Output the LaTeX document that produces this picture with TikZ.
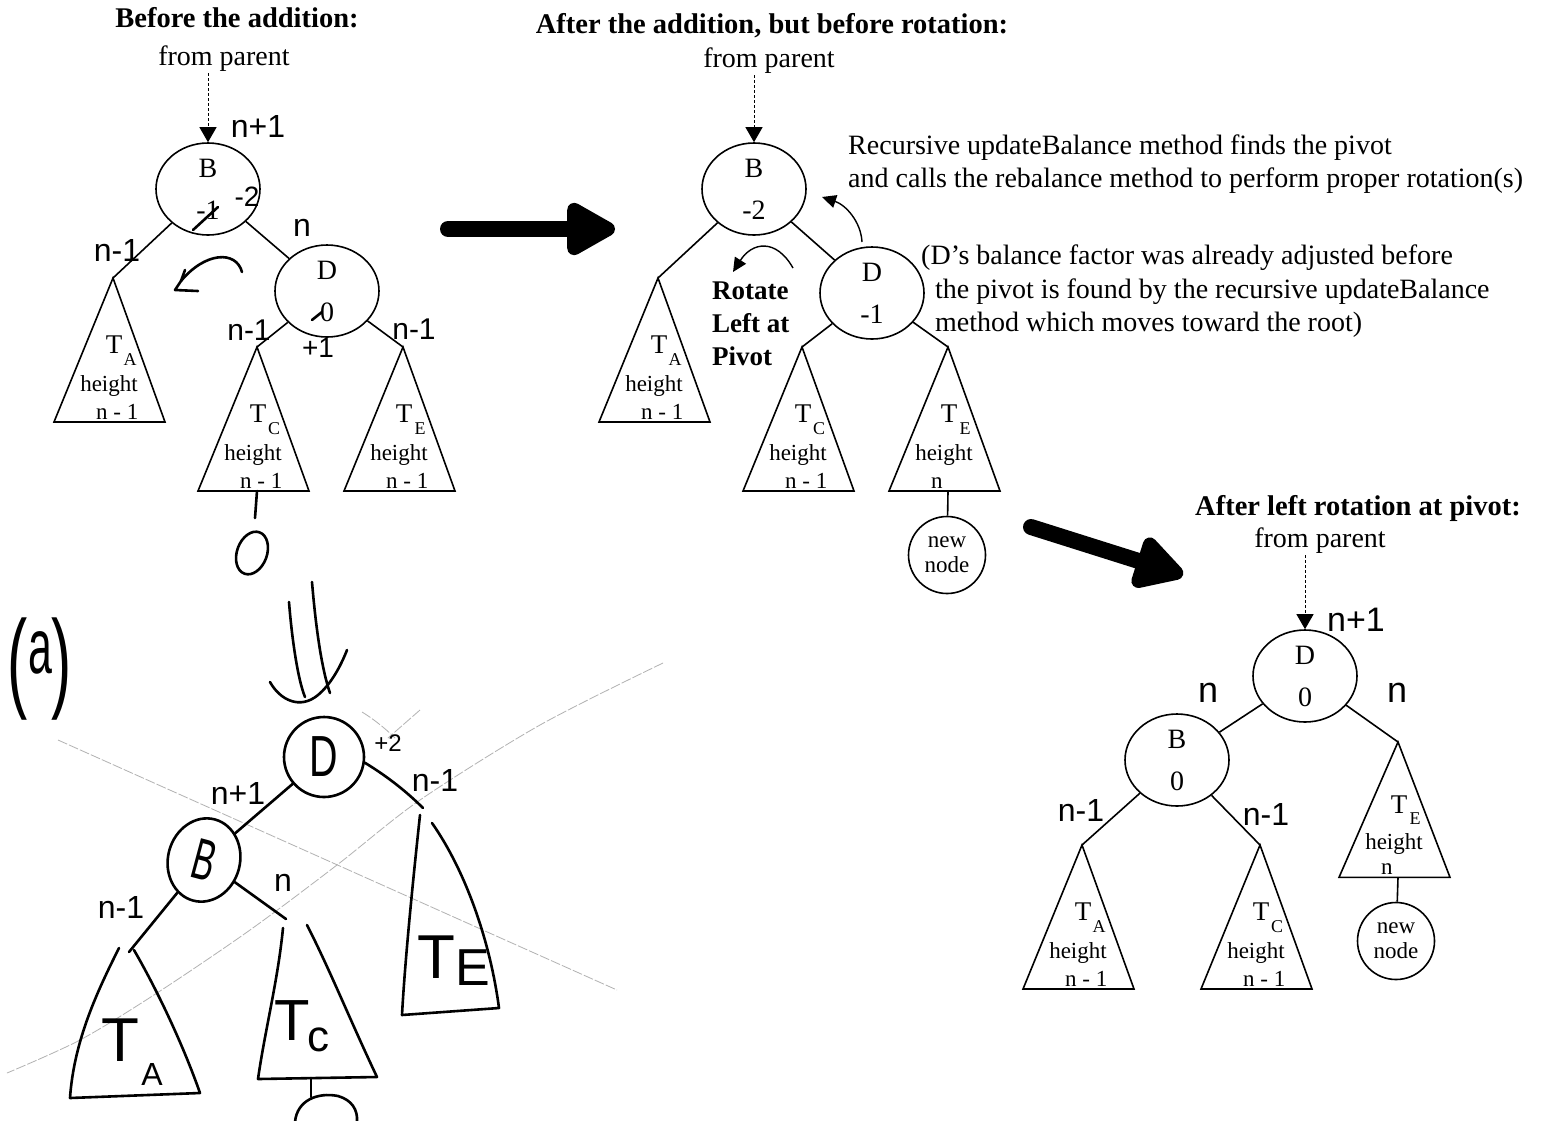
\documentclass[tikz,border=0pt]{standalone}
\usepackage{graphicx}
\usepackage{fontspec}
\setmainfont{Liberation Serif}
\newfontfamily\handfont{Liberation Sans}
\usetikzlibrary{shapes.geometric,arrows.meta}

\tikzset{
  tline/.style={line width=1.6pt},
  circ/.style={draw, line width=1.6pt, ellipse, minimum width=104pt, minimum height=92pt,
    inner sep=0pt, align=center, font=\fontsize{28}{42}\selectfont},
  newnode/.style={draw, line width=1.6pt, circle, minimum size=77pt, inner sep=0pt,
    align=center, font=\fontsize{23}{25}\selectfont},
  title/.style={font=\fontsize{28.5}{34}\selectfont\bfseries, inner sep=2pt},
  plain/.style={font=\fontsize{28}{33}\selectfont, inner sep=2pt},
  note/.style={font=\fontsize{28}{33}\selectfont, inner sep=0pt, anchor=base west},
  boldnote/.style={font=\fontsize{27}{33}\selectfont\bfseries, inner sep=0pt, anchor=base west},
  fromp/.style={line width=1pt, dash pattern=on 3pt off 2pt, -{Triangle[width=17pt,length=15pt]}},
  bigarrow/.style={line width=16pt, line cap=round, -{Triangle[width=58pt,length=56pt,round]}},
  smallarrow/.style={line width=1.4pt, -{Triangle[width=13pt,length=14pt]}},
  hand/.style={line width=2.6pt, line cap=round, line join=round},
  faint/.style={line width=0.8pt, gray!60, dash pattern=on 10pt off 2pt},
  hw/.style={font=\handfont\fontsize{32}{32}\selectfont, inner sep=0pt},
  ttxt/.style={font=\fontsize{27}{27}\selectfont, inner sep=0pt},
  tsub/.style={font=\fontsize{18}{18}\selectfont, inner sep=0pt},
  tlab/.style={font=\fontsize{23}{23}\selectfont, inner sep=0pt},
}

% subtree triangle: [scope options]{name}{apex}{subscript}{height label}
\newcommand\subtree[5][]{%
  \begin{scope}[shift={#3},#1]
    \coordinate (#2) at (0,0);
    \coordinate (#2-foot) at (0,144);
    \draw[tline] (#2) -- (-59,144) -- (52,144) -- cycle;
    \node[ttxt] (#2-T) at (1,67) {T};
    \node[tsub] (#2-s) at (17,82) {#4};
    \node[tlab] (#2-h) at (-4,108) {height};
    \node[tlab, anchor=base west] (#2-n) at (-17,141) {#5};
  \end{scope}}

\begin{document}
\begin{tikzpicture}[x=1pt,y=-1pt]
\fill[white] (0,0) rectangle (1544,1120);
\useasboundingbox (0,0) rectangle (1544,1120);

% ---------- before the addition ----------
\node[title, anchor=base] (t1) at (237,27) {Before the addition:};
\node[plain, anchor=base] (fp1) at (224,65) {from parent};
\node[circ] (B1) at (208,189) {B\\-1};
\node[circ] (D1) at (327,291) {D\\0};
\draw[fromp] (B1.north |- fp1.south) -- (B1.north);
\subtree{TA1}{(113,278)}{A}{n - 1}
\subtree{TC1}{(257,347)}{C}{n - 1}
\subtree{TE1}{(403,347)}{E}{n - 1}
\draw[tline] (B1) -- (TA1);
\draw[tline] (B1) -- (D1);
\draw[tline] (D1) -- (TC1);
\draw[tline] (D1) -- (TE1);

% pen notes
\node[hw] (p1a) at (258,126) {n+1};
\node[hw] (p1b) at (117,250) {n-1};
\node[hw] (p1c) at (302,228) {n};
\node[hw, font=\handfont\fontsize{28}{28}\selectfont] (p1d) at (247,197) {-2};
\draw[hand] (193,230) -- (218,207);
\draw[hand] (312,320) -- (322,312);
\node[hw, font=\handfont\fontsize{30}{30}\selectfont] (p1e) at (249,330) {n-1};
\node[hw, font=\handfont\fontsize{30}{30}\selectfont] (p1f) at (414,329) {n-1};
\node[hw, font=\handfont\fontsize{28}{28}\selectfont] (p1g) at (318,348) {+1};
\draw[hand] (242,272) .. controls (236,250) and (205,252) .. (181,281) -- (175,290) -- (198,291);
\draw[hand] (181,281) -- (185,270);
\coordinate (p1s) at (255,518);
\draw[hand] (TC1-foot) -- (p1s);
\node[draw, hand, ellipse, minimum width=30pt, minimum height=44pt, inner sep=0pt, rotate=-20] (p1z) at (252,553) {};

% ---------- arrows between stages ----------
\coordinate (a1s) at (448,229);
\coordinate (a1e) at (615,229);
\draw[bigarrow] (a1s) -- (a1e);
\coordinate (a2s) at (1031,527);
\coordinate (a2e) at (1183,575);
\draw[bigarrow] (a2s) -- (a2e);

% ---------- after the addition, before rotation ----------
\node[title, anchor=base] (t2) at (772,33) {After the addition, but before rotation:};
\node[plain, anchor=base] (fp2) at (769,67) {from parent};
\node[circ] (B2) at (754,189) {B\\-2};
\node[circ] (D2) at (872,293) {D\\-1};
\draw[fromp] (B2.north |- fp2.south) -- (B2.north);
\subtree{TA2}{(658,278)}{A}{n - 1}
\subtree{TC2}{(802,347)}{C}{n - 1}
\subtree{TE2}{(948,347)}{E}{n}
\node[newnode] (N2) at (947,555) {new\\node};
\draw[tline] (B2) -- (TA2);
\draw[tline] (B2) -- (D2);
\draw[tline] (D2) -- (TC2);
\draw[tline] (D2) -- (TE2);
\draw[tline] (TE2-foot) -- (N2);

\node[boldnote] (rot1) at (712,299) {Rotate};
\node[boldnote] (rot2) at (712,332) {Left at};
\node[boldnote] (rot3) at (712,365) {Pivot};
\coordinate (r2a) at (793,268);
\coordinate (r2b) at (733,272);
\draw[smallarrow] (r2a) .. controls (776,238) and (752,242) .. (r2b);
\coordinate (u2a) at (862,242);
\coordinate (u2b) at (822,197);
\draw[smallarrow] (u2a) .. controls (861,222) and (846,205) .. (u2b);

\node[note] (rec1) at (848,154) {Recursive updateBalance method finds the pivot};
\node[note] (rec2) at (848,187) {and calls the rebalance method to perform proper rotation(s)};
\node[note] (dn1) at (921,264) {(D{\char39}s balance factor was already adjusted before};
\node[note] (dn2) at (935,298) {the pivot is found by the recursive updateBalance};
\node[note] (dn3) at (935,331) {method which moves toward the root)};

% ---------- after left rotation ----------
\node[title, anchor=base] (t3) at (1358,515) {After left rotation at pivot:};
\node[plain, anchor=base] (fp3) at (1320,547) {from parent};
\node[circ] (D3) at (1305,676) {D\\0};
\node[circ] (B3) at (1177,760) {B\\0};
\draw[fromp] (D3.north |- fp3.south) -- (D3.north);
\subtree[yscale=0.94]{TE3}{(1398,742)}{E}{n}
\subtree{TA3}{(1082,845)}{A}{n - 1}
\subtree{TC3}{(1260,845)}{C}{n - 1}
\node[newnode] (N3) at (1396,941) {new\\node};
\draw[tline] (D3) -- (B3);
\draw[tline] (D3) -- (TE3);
\draw[tline] (B3) -- (TA3);
\draw[tline] (B3) -- (TC3);
\draw[tline] (TE3-foot) -- (N3);

\node[hw, font=\handfont\fontsize{34}{34}\selectfont] (p3a) at (1356,620) {n+1};
\node[hw, font=\handfont\fontsize{36}{36}\selectfont] (p3b) at (1208,693) {n};
\node[hw, font=\handfont\fontsize{36}{36}\selectfont] (p3c) at (1397,693) {n};
\node[hw] (p3d) at (1081,810) {n-1};
\node[hw] (p3e) at (1266,814) {n-1};

% ---------- pen sketch of the rotated tree ----------
\draw[faint] (58,740) -- (617,990);
\draw[faint] plot[smooth] coordinates {(663,663) (540,725) (420,800) (337,865) (250,930) (157,993) (80,1040) (7,1073)};
\draw[faint] (362,712) .. controls (372,718) and (385,728) .. (395,738);
\draw[faint] (420,710) -- (388,738);

\node[hw, anchor=base] (pa) at (40,697) {\scalebox{0.55}[1]{\fontsize{110}{110}\selectfont(\raisebox{24pt}{\fontsize{78}{78}\selectfont a})}};

\draw[hand] (289,602) .. controls (292,640) and (298,680) .. (305,697);
\draw[hand] (312,582) .. controls (316,630) and (322,670) .. (330,693);
\draw[hand] (270,682) .. controls (280,700) and (300,710) .. (318,695) .. controls (330,685) and (340,668) .. (347,650);

\node[draw, hand, ellipse, minimum width=80pt, minimum height=80pt, inner sep=0pt,
  font=\handfont\fontsize{58}{58}\selectfont] (hD) at (324,757) {\scalebox{0.68}[1]{D}};
\node[draw, hand, ellipse, minimum width=72pt, minimum height=84pt, inner sep=0pt, rotate=-15,
  font=\handfont\fontsize{58}{58}\selectfont] (hB) at (204,860) {\scalebox{0.58}[1]{B}};
\coordinate (hTA) at (129,952);
\coordinate (hTC) at (286,919);
\coordinate (hTE) at (423,808);
\draw[hand] (hD) -- (hB);
\draw[hand] (hD.-8) .. controls (385,775) and (405,790) .. (hTE);
\draw[hand] (hB) -- (hTA);
\draw[hand] (hB) -- (hTC);

\draw[hand] (119,948) .. controls (98,990) and (74,1040) .. (70,1098) -- (200,1093)
  .. controls (185,1050) and (160,995) .. (134,950);
\draw[hand] (283,928) .. controls (278,980) and (265,1030) .. (258,1079) -- (377,1077)
  .. controls (350,1020) and (330,970) .. (307,925);
\draw[hand] (420,815) .. controls (413,880) and (405,960) .. (402,1015) -- (499,1008)
  .. controls (490,940) and (465,870) .. (432,823);
\coordinate (hTCf) at (311,1078);
\coordinate (hz) at (311,1097);
\draw[hand] (hTCf) -- (hz);
\draw[hand] (295,1122) .. controls (297,1100) and (318,1092) .. (338,1096)
  .. controls (352,1100) and (358,1110) .. (357,1122);

\node[hw] (hl1) at (238,793) {n+1};
\node[hw, font=\handfont\fontsize{24}{24}\selectfont] (hl2) at (388,743) {+2};
\node[hw] (hl3) at (435,780) {n-1};
\node[hw] (hl4) at (121,907) {n-1};
\node[hw] (hl5) at (283,883) {n};
\node[hw, font=\handfont\fontsize{62}{62}\selectfont] (hTAT) at (120,1040) {T};
\node[hw] (hTAs) at (152,1074) {A};
\node[hw, font=\handfont\fontsize{58}{58}\selectfont] (hTCT) at (292,1021) {T};
\node[hw, font=\handfont\fontsize{44}{44}\selectfont] (hTCs) at (318,1040) {c};
\node[hw, font=\handfont\fontsize{62}{62}\selectfont] (hTET) at (436,957) {T};
\node[hw, font=\handfont\fontsize{52}{52}\selectfont] (hTEs) at (473,968) {E};
\end{tikzpicture}
\end{document}
